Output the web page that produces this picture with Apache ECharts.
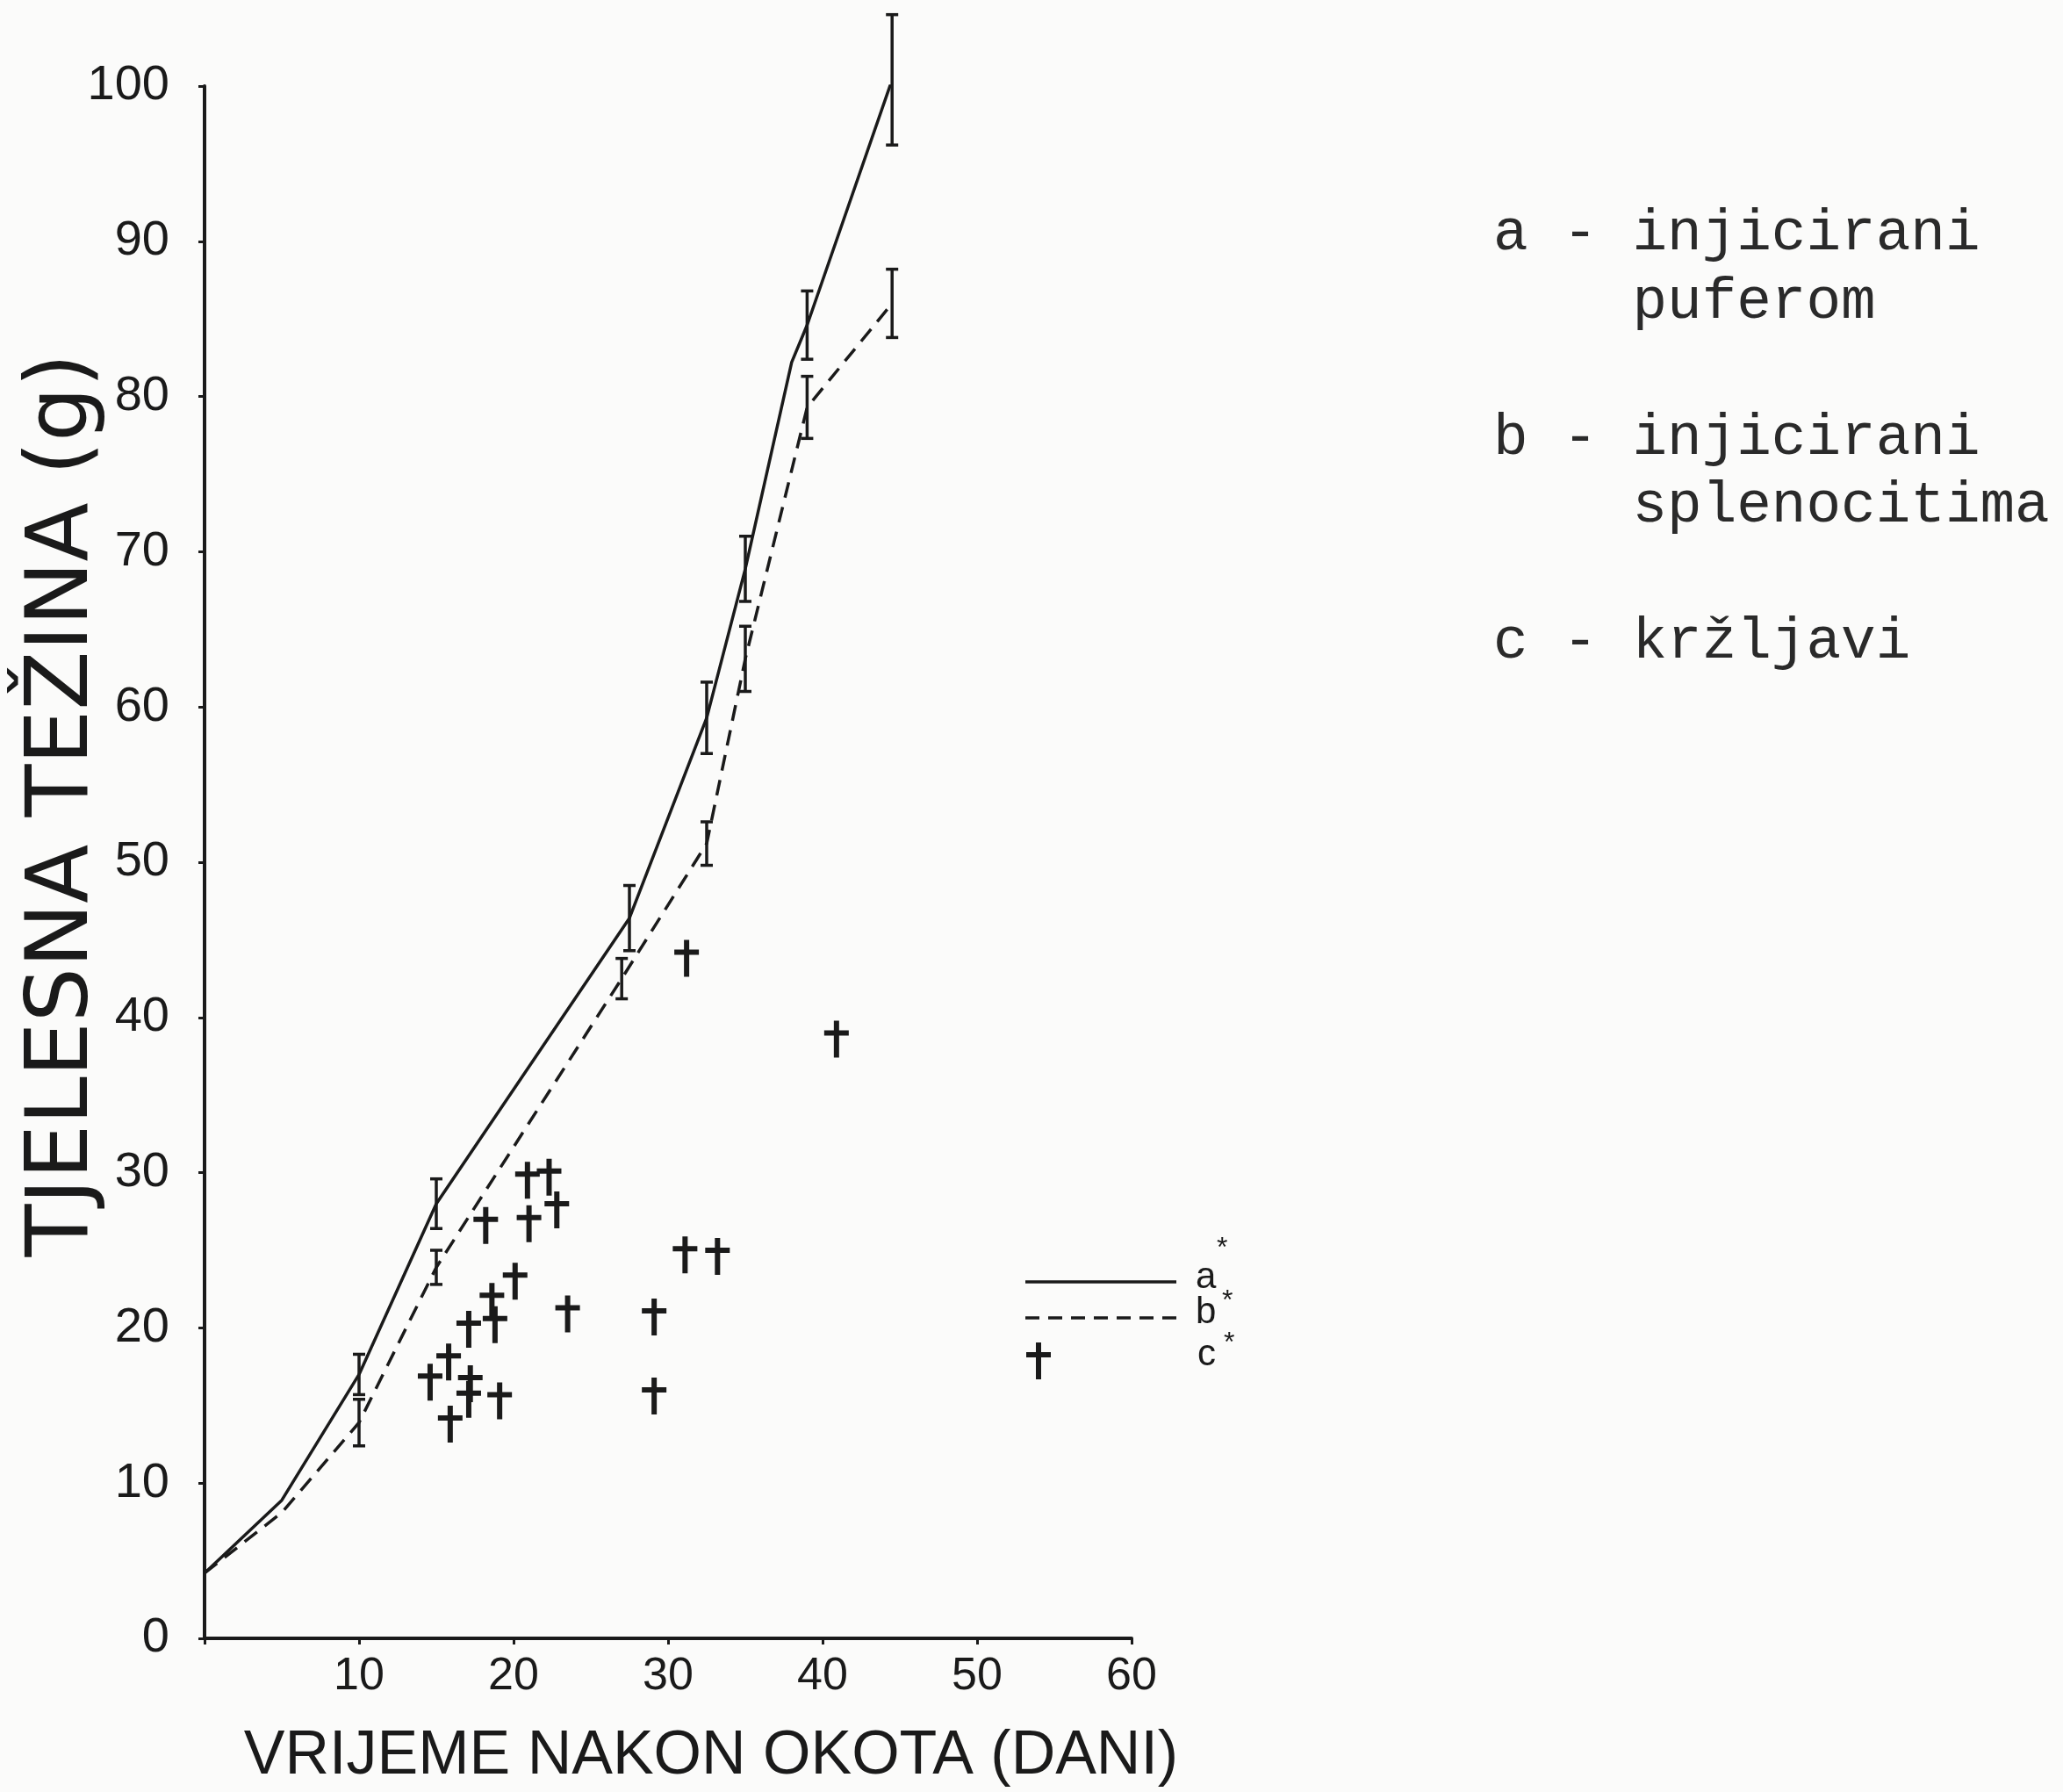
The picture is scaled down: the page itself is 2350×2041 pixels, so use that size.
<!DOCTYPE html>
<html>
<head>
<meta charset="utf-8">
<script src="https://cdn.jsdelivr.net/npm/echarts@6/dist/echarts.min.js"></script>
<style>
  html, body { margin: 0; padding: 0; background: #fbfbfa; }
  #chart { width: 2350px; height: 2041px; }
</style>
</head>
<body>
<div id="chart"></div>
<script>
// a - injicirani puferom (puna linija)
const aX = [0, 5, 10, 15, 27.5, 32.5, 35, 38, 39, 44.5]
const aY = [4.2, 8.9, 17.0, 28.0, 46.4, 59.3, 68.9, 82.2, 84.6, 100.4]
const aErr = [null, null, 1.3, 1.6, 2.1, 2.3, 2.1, null, 2.2, 4.2]

// b - injicirani splenocitima (isprekidana linija)
const bX = [0, 5, 10, 15, 27, 32.5, 35, 39, 44.5]
const bY = [4.2, 8.1, 13.9, 23.9, 42.5, 51.2, 63.1, 79.3, 86.0]
const bErr = [null, null, 1.5, 1.1, 1.3, 1.4, 2.1, 2.0, 2.2]

// c - kržljavi (pojedinačne životinje)
const cX = [31.2, 40.9, 20.9, 22.3, 18.2, 21.0, 22.8, 31.1, 33.2, 20.1, 18.6,
            23.5, 29.1, 18.8, 17.1, 15.8, 14.6, 17.2, 17.1, 19.1, 29.1, 15.9]
const cY = [44.2, 39.0, 29.9, 30.1, 27.0, 27.1, 28.0, 25.1, 25.0, 23.4, 22.1,
            21.3, 21.1, 20.6, 20.3, 18.2, 16.9, 16.8, 15.8, 15.7, 16.0, 14.2]

const xTicks = [0, 10, 20, 30, 40, 50, 60]
const yTicks = [0, 10, 20, 30, 40, 50, 60, 70, 80, 90, 100]

const INK = '#1a1a1a'
// križić: kratki krak gore, duži dolje
const CROSS = 'path://M11,0 L17,0 L17,11 L28,11 L28,17 L17,17 L17,42 L11,42 L11,17 L0,17 L0,11 L11,11 Z'

const toPairs = (xs, ys) => xs.map((x, i) => [x, ys[i]])
const toErr = (xs, ys, es) => xs
  .map((x, i) => es[i] == null ? null : [x, ys[i] - es[i], ys[i] + es[i]])
  .filter(d => d)

// error bars with small caps
const errSeries = (data) => ({
  type: 'custom',
  data: data,
  encode: { x: 0, y: [1, 2] },
  z: 5,
  renderItem: (params, api) => {
    const lo = api.coord([api.value(0), api.value(1)])
    const hi = api.coord([api.value(0), api.value(2)])
    const w = 7
    const st = { stroke: INK, lineWidth: 3.5 }
    return {
      type: 'group',
      children: [
        { type: 'line', shape: { x1: lo[0], y1: lo[1], x2: hi[0], y2: hi[1] }, style: st },
        { type: 'line', shape: { x1: lo[0] - w, y1: lo[1], x2: lo[0] + w, y2: lo[1] }, style: st },
        { type: 'line', shape: { x1: hi[0] - w, y1: hi[1], x2: hi[0] + w, y2: hi[1] }, style: st }
      ]
    }
  }
})

const chart = echarts.init(document.getElementById('chart'))

const option = {
  animation: false,
  backgroundColor: '#fbfbfa',
  grid: { left: 233, right: 1061, top: 98, bottom: 175 },
  xAxis: {
    type: 'value',
    min: 0, max: 60, interval: 10,
    name: 'VRIJEME NAKON OKOTA (DANI)',
    nameLocation: 'middle',
    nameGap: 100,
    nameMoveOverlap: false,
    nameTextStyle: { fontFamily: 'Liberation Sans', fontSize: 70, color: INK, padding: [0, 0, 0, 98] },
    axisLine: { lineStyle: { color: INK, width: 4 } },
    axisTick: { show: true, length: 7, lineStyle: { color: INK, width: 3 } },
    axisLabel: {
      margin: 18, fontFamily: 'Liberation Sans', fontSize: 52, color: INK,
      formatter: v => (v === 0 || !xTicks.includes(v)) ? '' : String(v)
    },
    splitLine: { show: false }
  },
  yAxis: {
    type: 'value',
    min: 0, max: 100, interval: 10,
    name: 'TJELESNA TEŽINA (g)',
    nameLocation: 'middle',
    nameGap: 110,
    nameMoveOverlap: false,
    nameTextStyle: { fontFamily: 'DejaVu Sans', fontSize: 98, color: INK, padding: [0, 0, 0, 130] },
    axisLine: { lineStyle: { color: INK, width: 4 } },
    axisTick: { show: true, length: 7, lineStyle: { color: INK, width: 3 } },
    axisLabel: {
      margin: 40, fontFamily: 'Liberation Sans', fontSize: 56, color: INK,
      formatter: v => yTicks.includes(v) ? String(v) : ''
    },
    splitLine: { show: false }
  },
  series: [
    {
      name: 'a',
      type: 'line',
      data: toPairs(aX, aY),
      showSymbol: false,
      lineStyle: { color: INK, width: 3.5 },
      z: 4
    },
    {
      name: 'b',
      type: 'line',
      data: toPairs(bX, bY),
      showSymbol: false,
      lineStyle: { color: INK, width: 3.5, type: [18, 11] },
      z: 4
    },
    errSeries(toErr(aX, aY, aErr)),
    errSeries(toErr(bX, bY, bErr)),
    {
      name: 'c',
      type: 'scatter',
      data: toPairs(cX, cY),
      symbol: CROSS,
      symbolSize: [28, 42],
      symbolOffset: [0, 7],
      itemStyle: { color: INK, opacity: 1 },
      z: 6
    }
  ],
  graphic: [
    // opis skupina desno
    {
      type: 'text',
      left: 1701,
      top: 228,
      style: {
        text: 'a - injicirani\n    puferom\n\nb - injicirani\n    splenocitima\n\nc - kržljavi',
        font: '66px "Liberation Mono", monospace',
        lineHeight: 77.5,
        fill: '#2a2a2a'
      }
    },
    // mali ključ uz graf
    { type: 'line', shape: { x1: 1168, y1: 1460, x2: 1340, y2: 1460 }, style: { stroke: INK, lineWidth: 3.5 } },
    { type: 'line', shape: { x1: 1168, y1: 1501, x2: 1345, y2: 1501 }, style: { stroke: INK, lineWidth: 3.5, lineDash: [16, 10] } },
    { type: 'rect', shape: { x: 1180, y: 1529, width: 6, height: 42 }, style: { fill: INK } },
    { type: 'rect', shape: { x: 1169, y: 1540, width: 28, height: 6 }, style: { fill: INK } },
    { type: 'text', x: 1362, y: 1434, style: { text: 'a', font: '42px "Liberation Sans"', fill: INK } },
    { type: 'text', x: 1386, y: 1406, style: { text: '*', font: '32px "Liberation Sans"', fill: INK } },
    { type: 'text', x: 1362, y: 1474, style: { text: 'b', font: '42px "Liberation Sans"', fill: INK } },
    { type: 'text', x: 1392, y: 1466, style: { text: '*', font: '32px "Liberation Sans"', fill: INK } },
    { type: 'text', x: 1364, y: 1522, style: { text: 'c', font: '42px "Liberation Sans"', fill: INK } },
    { type: 'text', x: 1394, y: 1514, style: { text: '*', font: '32px "Liberation Sans"', fill: INK } }
  ]
}

chart.setOption(option)
window.addEventListener('resize', () => chart.resize())
</script>
</body>
</html>
